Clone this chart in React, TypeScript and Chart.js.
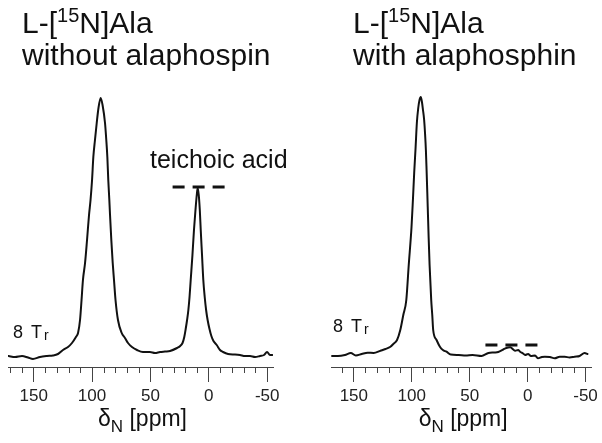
import React, { useEffect, useRef } from "react";
import { Chart, registerables } from "chart.js";

Chart.register(...registerables);

// ---- data (chemical shift in ppm, intensity in arbitrary units) ----
const leftPpm = [171.5, 166.0, 160.0, 154.9, 150.6, 144.6, 138.6, 133.5, 129.2, 124.9, 120.6, 117.2, 113.8, 112.0, 110.3, 109.0, 107.8, 106.0, 104.3, 102.6, 101.3, 100.0, 98.9, 97.5, 96.0, 94.5, 92.6, 91.0, 88.9, 87.8, 86.9, 86.1, 85.2, 84.6, 83.5, 82.3, 81.2, 79.9, 77.8, 74.6, 71.8, 69.2, 65.8, 61.5, 56.4, 50.4, 46.1, 41.8, 37.5, 33.2, 27.2, 24.5, 22.5, 21.0, 19.8, 18.6, 17.5, 16.5, 15.5, 14.0, 12.7, 11.4, 10.3, 9.5, 8.6, 7.7, 6.9, 5.8, 4.7, 3.5, 2.3, 1.0, -0.6, -2.2, -4.0, -6.8, -9.6, -12.2, -16.5, -22.5, -26.7, -31.0, -35.3, -39.6, -43.9, -47.3, -49.9, -52.4, -54.5];
const leftIntensity = [4, 3, 4, 2.5, 1, 3, 4, 4.5, 6, 10, 13, 17, 23, 27, 40, 60, 80, 97, 120, 145, 160, 180, 203, 220, 237, 252, 262, 255, 237, 220, 203, 180, 160, 145, 120, 97, 80, 60, 40, 27, 22, 17, 13, 10, 8, 8, 7, 8, 8.5, 9, 12, 14, 17, 23, 31, 40, 50, 63, 80, 105, 130, 150, 165, 172, 165, 150, 130, 105, 80, 63, 50, 40, 31, 24, 19, 15, 10, 8, 6, 5.5, 5, 4, 4, 3, 4, 5, 8, 5, 5];

const rightPpm = [168.8, 163.7, 157.7, 152.6, 148.3, 143.2, 138.1, 132.9, 127.0, 122.7, 118.4, 115.9, 112.7, 109.9, 107.3, 104.7, 102.6, 100.2, 99.0, 97.9, 96.7, 95.6, 94.4, 93.3, 92.2, 91.2, 90.3, 89.3, 88.5, 87.8, 87.2, 86.6, 86.0, 85.4, 84.6, 83.2, 82.3, 81.5, 78.6, 75.7, 73.1, 70.0, 66.3, 59.5, 53.5, 47.5, 39.8, 33.8, 28.7, 25.3, 21.0, 18.4, 15.0, 12.4, 10.7, 8.2, 6.5, 3.9, 2.2, -0.4, -2.9, -6.4, -8.9, -12.3, -14.9, -19.2, -23.4, -27.7, -32.0, -36.3, -40.6, -44.9, -49.2, -51.7];
const rightIntensity = [4, 4, 5, 7, 4.5, 6, 7.3, 7, 9.3, 11, 13.3, 16, 20, 30, 45, 60, 95, 133, 160, 187, 212, 237, 252, 260, 263, 258, 250, 240, 226, 210, 190, 168, 145, 122, 95, 60, 45, 30, 20, 13.3, 10, 8.3, 5.5, 5, 4.5, 5, 4, 7, 7.5, 8, 10.5, 12, 12.7, 10.5, 9.3, 10, 8.3, 6.5, 5, 6, 4, 4.5, 1.7, 3, 3.3, 3, 1.7, 3.3, 3.3, 2.5, 3.3, 4, 7, 6];

// dashed markers over the teichoic acid region
const leftMarkerPpm = [31, -14];
const leftMarkerLevel = 173;
const rightMarkerPpm = [36.4, -8.9];
const rightMarkerLevel = 15;

// axis
const leftRange = [-55, 172];
const rightRange = [-55, 169.7];
const majorStep = 50;
const minorStep = 10;
const intensityRange = [-7, 360];

// texts
const titlePre = "L-[";
const titleSup = "15";
const titlePost = "N]Ala";
const leftSubtitle = "without alaphospin";
const rightSubtitle = "with alaphosphin";
const peakLabel = "teichoic acid";
const axisSymbol = "δ";
const axisSub = "N";
const axisUnit = " [ppm]";
const tr8 = "8";
const trT = "T";
const trSub = "r";

const FONT = "'Liberation Sans', Arial, Helvetica, sans-serif";
const INK = "#111";

const decorPlugin = {
  id: "decor",
  afterDraw(chart: any, _args: any, opts: any) {
    const ctx = chart.ctx as CanvasRenderingContext2D;
    const xs = chart.scales.x;
    const area = chart.chartArea;
    const yBase = area.bottom;
    ctx.save();
    // minor ticks
    ctx.strokeStyle = "#444";
    ctx.lineWidth = 1;
    for (let v = Math.ceil(xs.min / minorStep) * minorStep; v <= xs.max; v += minorStep) {
      if (v % majorStep === 0) continue;
      const px = Math.round(xs.getPixelForValue(v)) + 0.5;
      ctx.beginPath();
      ctx.moveTo(px, yBase);
      ctx.lineTo(px, yBase + 6);
      ctx.stroke();
    }
    ctx.fillStyle = INK;
    ctx.textBaseline = "alphabetic";
    ctx.textAlign = "left";
    // title line 1 with superscript
    let x = opts.titleX;
    ctx.font = `30px ${FONT}`;
    ctx.fillText(titlePre, x, 33);
    x += ctx.measureText(titlePre).width;
    ctx.font = `20px ${FONT}`;
    ctx.fillText(titleSup, x, 22);
    x += ctx.measureText(titleSup).width;
    ctx.font = `30px ${FONT}`;
    ctx.fillText(titlePost, x, 33);
    // title line 2
    ctx.fillText(opts.subtitle, opts.titleX, 65);
    // peak label
    if (opts.peakLabel) {
      ctx.font = `25px ${FONT}`;
      ctx.fillText(opts.peakLabel, opts.peakLabelX, opts.peakLabelY);
    }
    // 8 Tr
    ctx.font = `18px ${FONT}`;
    ctx.fillText(tr8, opts.trX, opts.trY);
    ctx.fillText(trT, opts.trX + 18, opts.trY);
    ctx.font = `14px ${FONT}`;
    ctx.fillText(trSub, opts.trX + 31, opts.trY + 2);
    // axis title
    ctx.font = `23px ${FONT}`;
    const w1 = ctx.measureText(axisSymbol).width;
    const w3 = ctx.measureText(axisUnit).width;
    ctx.font = `17px ${FONT}`;
    const w2 = ctx.measureText(axisSub).width;
    const total = w1 + w2 + w3;
    let ax = (area.left + area.right) / 2 - total / 2 + 2;
    ctx.font = `23px ${FONT}`;
    ctx.fillText(axisSymbol, ax, 426);
    ax += w1;
    ctx.font = `17px ${FONT}`;
    ctx.fillText(axisSub, ax, 432);
    ax += w2;
    ctx.font = `23px ${FONT}`;
    ctx.fillText(axisUnit, ax, 426);
    ctx.restore();
  },
};

function makeConfig(ppm: number[], inten: number[], markerPpm: number[], markerLevel: number, range: number[], padding: any, decor: any) {
  const spectrum = ppm.map((p, i) => ({ x: p, y: inten[i] }));
  const marker = markerPpm.map((p) => ({ x: p, y: markerLevel }));
  return {
    type: "scatter" as const,
    data: {
      datasets: [
        {
          data: spectrum,
          showLine: true,
          borderColor: INK,
          borderWidth: 2,
          borderJoinStyle: "round" as const,
          borderCapStyle: "round" as const,
          cubicInterpolationMode: "monotone" as const,
          pointRadius: 0,
          fill: false,
        },
        {
          data: marker,
          showLine: true,
          borderColor: INK,
          borderWidth: 3,
          borderDash: [12, 8],
          pointRadius: 0,
          fill: false,
        },
      ],
    },
    options: {
      responsive: false,
      animation: false as const,
      layout: { padding },
      plugins: {
        legend: { display: false },
        tooltip: { enabled: false },
        decor,
      },
      scales: {
        x: {
          type: "linear" as const,
          reverse: true,
          min: range[0],
          max: range[1],
          afterFit: (scale: any) => {
            scale.height = 76;
          },
          border: { display: true, color: "#444", width: 1 },
          grid: {
            display: true,
            drawOnChartArea: false,
            tickLength: 15,
            tickColor: (c: any) => (c.tick && c.tick.value % majorStep === 0 ? "#444" : "rgba(0,0,0,0)"),
          },
          ticks: {
            stepSize: minorStep,
            includeBounds: false,
            autoSkip: false,
            maxRotation: 0,
            padding: 4,
            color: "#222",
            font: { family: FONT, size: 17 },
            callback: (v: any) => (Number(v) % majorStep === 0 ? String(v) : ""),
          },
        },
        y: {
          display: false,
          min: intensityRange[0],
          max: intensityRange[1],
        },
      },
    },
    plugins: [decorPlugin],
  };
}

export default function App() {
  const leftRef = useRef<HTMLCanvasElement>(null);
  const rightRef = useRef<HTMLCanvasElement>(null);
  useEffect(() => {
    const left = new Chart(
      leftRef.current as HTMLCanvasElement,
      makeConfig(leftPpm, leftIntensity, leftMarkerPpm, leftMarkerLevel, leftRange, { left: 8, right: 28, top: 0, bottom: 0 }, {
        titleX: 22,
        subtitle: leftSubtitle,
        peakLabel: peakLabel,
        peakLabelX: 150,
        peakLabelY: 168,
        trX: 13,
        trY: 338,
      }) as any
    );
    const right = new Chart(
      rightRef.current as HTMLCanvasElement,
      makeConfig(rightPpm, rightIntensity, rightMarkerPpm, rightMarkerLevel, rightRange, { left: 30, right: 8, top: 0, bottom: 0 }, {
        titleX: 52,
        subtitle: rightSubtitle,
        peakLabel: "",
        trX: 32,
        trY: 332,
      }) as any
    );
    return () => {
      left.destroy();
      right.destroy();
    };
  }, []);
  return (
    <div style={{ position: "absolute", left: 0, top: 0, width: 602, height: 443, background: "#fff" }}>
      <canvas ref={leftRef} width={301} height={443} style={{ position: "absolute", left: 0, top: 0, width: 301, height: 443 }} />
      <canvas ref={rightRef} width={301} height={443} style={{ position: "absolute", left: 301, top: 0, width: 301, height: 443 }} />
    </div>
  );
}
